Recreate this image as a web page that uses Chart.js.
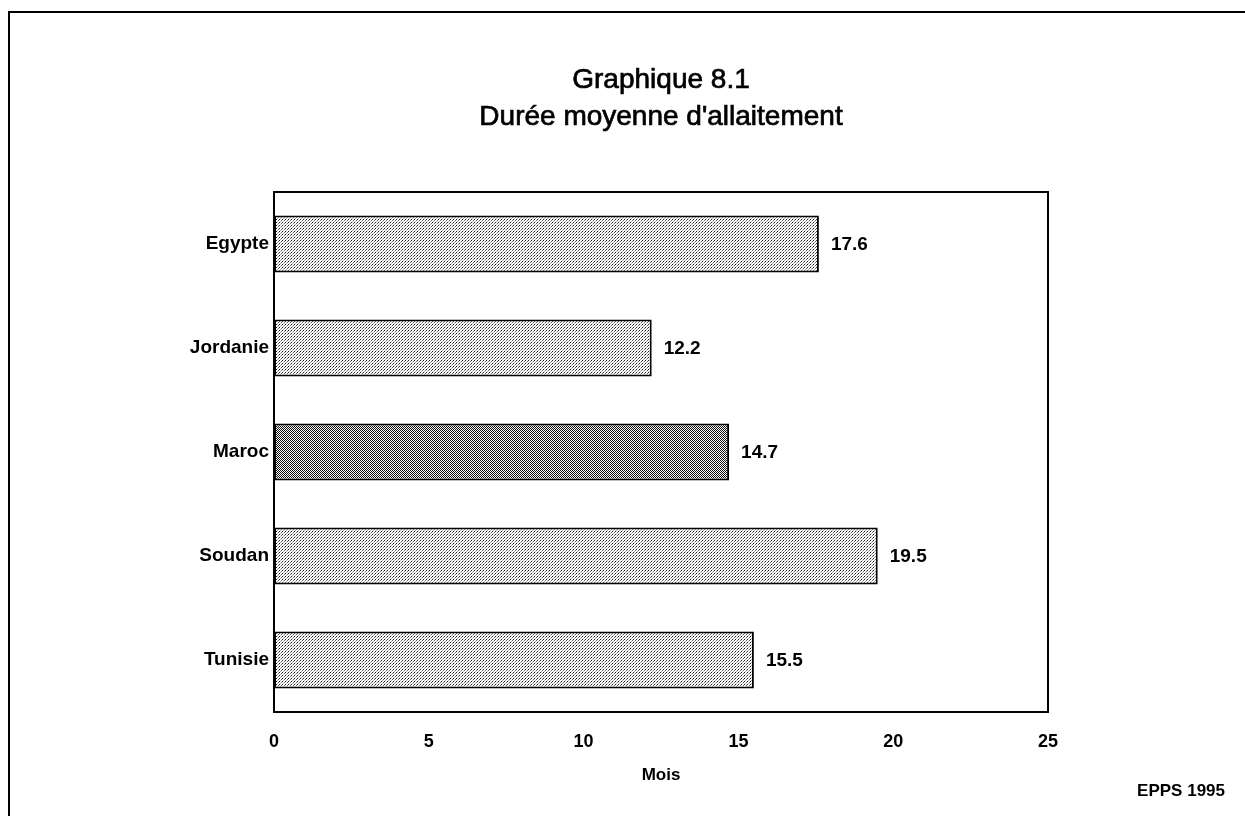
<!DOCTYPE html>
<html>
<head>
<meta charset="utf-8">
<script src="https://cdn.jsdelivr.net/npm/chart.js@4"></script>
<style>
html,body{margin:0;padding:0;background:#fff;}
#wrap{width:1245px;height:816px;position:relative;}
</style>
</head>
<body>
<div id="wrap"><canvas id="c" width="1245" height="816"></canvas></div>
<script>
const categories = ['Egypte', 'Jordanie', 'Maroc', 'Soudan', 'Tunisie'];
const values = [17.6, 12.2, 14.7, 19.5, 15.5];
const xTicks = [0, 5, 10, 15, 20, 25];
const titleLines = ['Graphique 8.1', "Durée moyenne d'allaitement"];
const axisTitle = 'Mois';
const sourceNote = 'EPPS 1995';
const darkCategory = 'Maroc';

function makePattern(dark) {
  const t = document.createElement('canvas');
  const ctx = t.getContext('2d');
  if (dark) {
    t.width = 2; t.height = 2;
    ctx.fillStyle = '#fff'; ctx.fillRect(0,0,2,2);
    ctx.fillStyle = '#111'; ctx.fillRect(0,0,1,1); ctx.fillRect(1,1,1,1);
  } else {
    t.width = 3; t.height = 3;
    ctx.fillStyle = '#fff'; ctx.fillRect(0,0,3,3);
    ctx.fillStyle = '#1a1a1a'; ctx.fillRect(0,0,1,1);
    ctx.fillStyle = '#666'; ctx.fillRect(2,1,1,1);
    ctx.fillStyle = '#aaa'; ctx.fillRect(1,2,1,1);
  }
  return document.getElementById('c').getContext('2d').createPattern(t, 'repeat');
}
const lightPat = makePattern(false);
const darkPat = makePattern(true);

const FONT = "'Liberation Sans', Arial, Helvetica, sans-serif";

const decor = {
  id: 'decor',
  afterDraw(chart) {
    const ctx = chart.ctx;
    const a = chart.chartArea;
    ctx.save();
    // outer frame
    ctx.strokeStyle = '#000';
    ctx.lineWidth = 2;
    ctx.beginPath();
    ctx.moveTo(9, 816);
    ctx.lineTo(9, 12);
    ctx.lineTo(1245, 12);
    ctx.stroke();
    // plot frame
    ctx.strokeRect(a.left, a.top, a.right - a.left, a.bottom - a.top);
    // titles
    ctx.fillStyle = '#000';
    ctx.textAlign = 'center';
    ctx.textBaseline = 'middle';
    ctx.font = '28px ' + FONT;
    ctx.lineWidth = 0.7;
    ctx.fillText(titleLines[0], 661, 80);
    ctx.strokeText(titleLines[0], 661, 80);
    ctx.fillText(titleLines[1], 661, 117);
    ctx.strokeText(titleLines[1], 661, 117);
    // source note
    ctx.font = 'bold 17px ' + FONT;
    ctx.textAlign = 'right';
    ctx.fillText(sourceNote, 1225, 791);
    // value labels
    const meta = chart.getDatasetMeta(0);
    ctx.textAlign = 'left';
    ctx.font = 'bold 19px ' + FONT;
    meta.data.forEach((bar, i) => {
      ctx.fillText(values[i].toFixed(1), bar.x + 12, bar.y + 1);
    });
    ctx.restore();
  }
};

new Chart(document.getElementById('c'), {
  type: 'bar',
  data: {
    labels: categories,
    datasets: [{
      data: values,
      backgroundColor: categories.map(c => c === darkCategory ? darkPat : lightPat),
      borderColor: '#000',
      borderWidth: 2,
      borderSkipped: false,
      barPercentage: 0.55,
      categoryPercentage: 1.0
    }]
  },
  options: {
    indexAxis: 'y',
    responsive: false,
    animation: false,
    layout: { padding: { left: 0, right: 197, top: 192, bottom: 0 } },
    plugins: { legend: { display: false }, tooltip: { enabled: false }, title: { display: false } },
    scales: {
      x: {
        min: 0, max: 25,
        afterFit(s) { s.height = 104; },
        afterBuildTicks(s) { s.ticks = xTicks.map(v => ({ value: v })); },
        grid: { display: false, drawTicks: false },
        border: { display: false },
        ticks: { color: '#000', font: { family: FONT, size: 18, weight: 'bold' }, padding: 19, maxRotation: 0 },
        title: { display: true, text: axisTitle, color: '#000', font: { family: FONT, size: 17, weight: 'bold' }, padding: { top: 0, bottom: 30 } }
      },
      y: {
        afterFit(s) { s.width = 274; },
        grid: { display: false, drawTicks: false },
        border: { display: false },
        ticks: { color: '#000', font: { family: FONT, size: 19, weight: 'bold' }, padding: 5 }
      }
    }
  },
  plugins: [decor]
});
</script>
</body>
</html>
